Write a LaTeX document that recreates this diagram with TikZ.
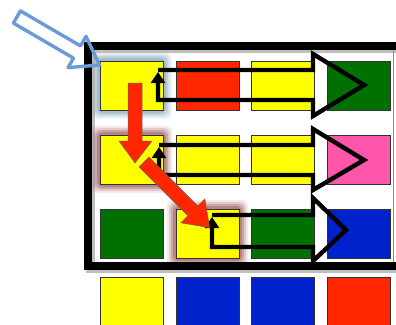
\documentclass[tikz,border=0pt]{standalone}
\usetikzlibrary{arrows.meta}
\definecolor{cyel}{HTML}{FFFF00}
\definecolor{cred}{HTML}{FF2600}
\definecolor{cgrn}{HTML}{007000}
\definecolor{cpink}{HTML}{FF55AA}
\definecolor{cblu}{HTML}{0022CC}
\definecolor{carrowblue}{HTML}{6A9BD6}
\definecolor{glowblue}{HTML}{7FA2B4}
\definecolor{glowred}{HTML}{9A5050}
\begin{document}
\begin{tikzpicture}[x=1pt,y=-1pt,
  sq/.style={draw=black!80, line width=0.9pt, minimum width=63pt, minimum height=49pt, inner sep=0pt, anchor=north west},
  blkarrow/.style={draw=black, line width=4.4pt, line join=miter, -{Triangle[width=14pt,length=11pt]}},
  redarrow/.style={fill=cred, draw=black!60, line width=0.5pt, line join=miter},
  bluearrow/.style={draw=carrowblue, line width=3.4pt, line join=round},
  frame/.style={draw=black, line width=8pt},
  glow/.style={rounded corners=6pt}]
\useasboundingbox (0,0) rectangle (396,324);
\clip (0,0) rectangle (396,324);
% frame shadow
\draw[black!25, line width=9pt] (90,48) -- (402,48);
\draw[black!25, line width=9pt] (90,48) -- (90,268) -- (402,268);
% glows
\foreach \o/\a in {9/0.12,7/0.2,5/0.3,3/0.4}{
  \fill[glowblue, opacity=\a, glow] (100-\o,61-\o) rectangle (163+\o,110+\o);
  \fill[glowred, opacity=\a, glow] (100-\o,135-\o) rectangle (163+\o,184+\o);
  \fill[glowred, opacity=\a, glow] (176-\o,209-\o) rectangle (239+\o,258+\o);
}
% frame
\draw[frame] (88,46) -- (404,46);
\draw[frame] (88,42) -- (88,266) -- (404,266);
\draw[black!45, line width=0.8pt] (393,50) -- (393,262);
% squares
\node[sq, fill=cyel]  (s11) at (100,61) {};
\node[sq, fill=cred]  (s12) at (176,61) {};
\node[sq, fill=cyel]  (s13) at (251,61) {};
\node[sq, fill=cgrn]  (s14) at (327,61) {};
\node[sq, fill=cyel]  (s21) at (100,135) {};
\node[sq, fill=cyel]  (s22) at (176,135) {};
\node[sq, fill=cyel]  (s23) at (251,135) {};
\node[sq, fill=cpink] (s24) at (327,135) {};
\node[sq, fill=cgrn]  (s31) at (100,209) {};
\node[sq, fill=cyel]  (s32) at (176,209) {};
\node[sq, fill=cgrn]  (s33) at (251,209) {};
\node[sq, fill=cblu]  (s34) at (327,209) {};
\node[sq, fill=cyel]  (s41) at (100,277) {};
\node[sq, fill=cblu]  (s42) at (176,277) {};
\node[sq, fill=cblu]  (s43) at (251,277) {};
\node[sq, fill=cred]  (s44) at (327,277) {};
% black outline arrows
\draw[blkarrow] (158,70) -- (313,70) -- (313,54) -- (364,85) -- (313,116) -- (313,100) -- (158,100) -- (158,72);
\draw[blkarrow] (159,145) -- (313,145) -- (313,129) -- (364,160) -- (313,190) -- (313,175) -- (159,175) -- (159,147);
\draw[blkarrow] (212,215) -- (313,215) -- (313,198) -- (346,230) -- (313,261) -- (313,247) -- (212,247) -- (212,217);
% red arrows
\draw[redarrow] (128,83) -- (142,83) -- (142,141) -- (152,141) -- (135,163) -- (119,141) -- (128,141) -- cycle;
\draw[redarrow] (148.9,157.1) -- (197.7,205.9) -- (204.8,198.8) -- (209.6,227.6) -- (180.8,222.8) -- (187.9,215.7) -- (139.1,166.9) -- cycle;
% blue outline arrow
\draw[bluearrow] (20.4,10.9) -- (80.5,45.9) -- (86,36.4) -- (99.5,65) -- (68,67.6) -- (73.5,58.1) -- (13.4,23.1) -- cycle;
\end{tikzpicture}
\end{document}
